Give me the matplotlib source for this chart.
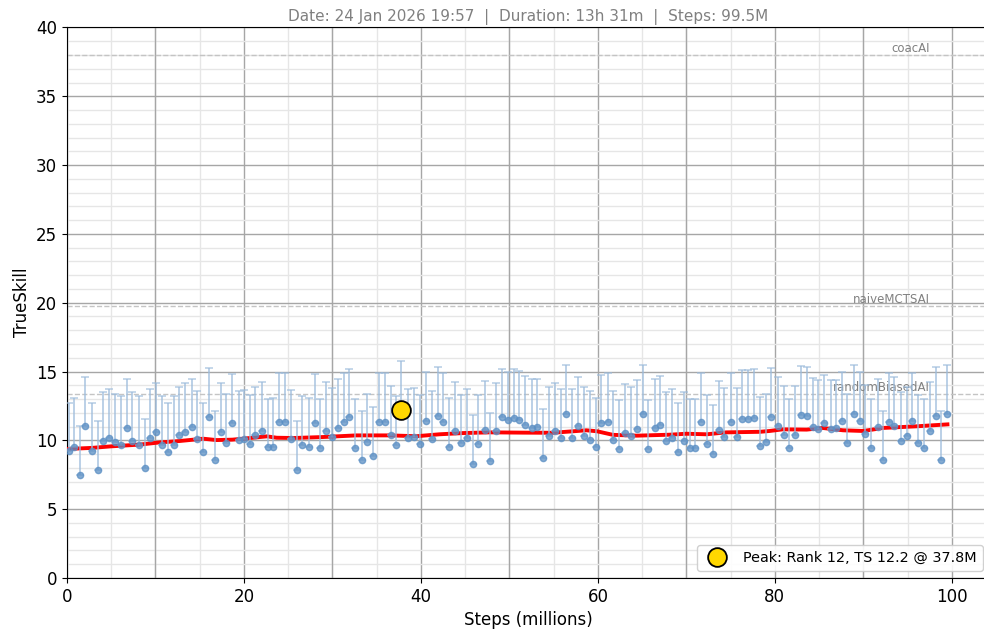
import numpy as np
import matplotlib
matplotlib.use("Agg")
import matplotlib.pyplot as plt
from matplotlib.ticker import MultipleLocator
from matplotlib.lines import Line2D

# evaluation checkpoints (millions of steps) and TrueSkill
steps = [0.2, 0.8, 1.5, 2.1, 2.8, 3.5, 4.1, 4.8, 5.4, 6.1, 6.8, 7.4, 8.1, 8.8, 9.4,
         10.1, 10.7, 11.4, 12.1, 12.7, 13.4, 14.1, 14.7, 15.4, 16.0, 16.7, 17.4, 18.0, 18.7, 19.4,
         20.0, 20.7, 21.3, 22.0, 22.7, 23.3, 24.0, 24.7, 25.3, 26.0, 26.6, 27.3, 28.0, 28.6, 29.3,
         30.0, 30.6, 31.3, 31.9, 32.6, 33.3, 33.9, 34.6, 35.3, 35.9, 36.6, 37.2, 37.8, 38.6, 39.2,
         39.9, 40.6, 41.2, 41.9, 42.5, 43.2, 43.9, 44.5, 45.2, 45.9, 46.5, 47.2, 47.8, 48.5, 49.2,
         49.8, 50.5, 51.1, 51.8, 52.5, 53.1, 53.8, 54.5, 55.1, 55.8, 56.4, 57.1, 57.8, 58.4, 59.1,
         59.8, 60.4, 61.1, 61.7, 62.4, 63.1, 63.7, 64.4, 65.1, 65.7, 66.4, 67.0, 67.7, 68.4, 69.0,
         69.7, 70.4, 71.0, 71.7, 72.3, 73.0, 73.7, 74.3, 75.0, 75.7, 76.3, 77.0, 77.6, 78.3, 79.0,
         79.6, 80.3, 81.0, 81.6, 82.3, 82.9, 83.6, 84.3, 84.9, 85.6, 86.3, 86.9, 87.6, 88.2, 88.9,
         89.6, 90.2, 90.9, 91.6, 92.2, 92.9, 93.5, 94.2, 94.9, 95.5, 96.2, 96.9, 97.5, 98.2, 98.8,
         99.5]
trueskill = [9.20, 9.54, 7.46, 11.07, 9.20, 7.82, 9.93, 10.19, 9.85, 9.66, 10.90, 9.95, 9.66, 7.97, 10.15,
             10.60, 9.66, 9.13, 9.66, 10.36, 10.60, 10.94, 10.07, 9.15, 11.69, 8.55, 10.60, 9.81, 11.26, 10.05,
             10.10, 9.73, 10.36, 10.70, 9.49, 9.54, 11.31, 11.36, 10.10, 7.82,
             9.69, 9.54, 11.26, 9.47, 10.68, 10.24, 10.90, 11.31, 11.67, 9.44, 8.60, 9.85, 8.89, 11.31, 11.36,
             10.39, 9.69, 12.18, 10.15, 10.24, 9.73, 11.40, 10.07, 11.77, 11.36, 9.54, 10.70, 9.78, 10.15, 8.30,
             9.73, 10.77, 8.47, 10.65, 11.67, 11.45, 11.60, 11.48, 11.14,
             10.90, 10.94, 8.72, 10.34, 10.65, 10.15, 11.94, 10.19, 11.07, 10.34, 10.05, 9.52, 11.23, 11.31, 10.05,
             9.39, 10.56, 10.34, 10.80, 11.94, 9.39, 10.90, 11.14, 9.93, 10.19, 9.18, 9.98, 9.44, 9.44, 11.36,
             9.73, 9.00, 10.77, 10.24, 11.31, 10.24, 11.53, 11.53, 11.60, 9.59,
             9.85, 11.69, 11.07, 10.41, 9.44, 10.39, 11.86, 11.77, 10.99, 10.82, 11.23, 10.82, 10.87, 11.40, 9.83,
             11.89, 11.40, 10.48, 9.44, 10.94, 8.60, 11.31, 11.07, 9.98, 10.31, 11.38, 9.78, 9.47, 10.68, 11.77,
             8.60, 11.89]
upper_err = 3.55  # one-sided bar above every point

# smoothed trend (red line)
trend_steps = [0.2, 2.8, 4.9, 8.2, 10.5, 12.7, 14.3, 15.4, 16.9, 18.7, 19.9, 22.6, 23.7, 25.6, 28.9,
               32.7, 36.5, 39.5, 42.1, 44.8, 47.8, 51.5, 54.9, 58.7, 59.9, 61.7, 64.4, 68.1, 70.0, 72.3,
               74.5, 78.3, 79.4, 80.9, 83.6, 85.4, 87.7, 90.0, 92.2, 96.0, 99.5]
trend_vals = [9.38, 9.45, 9.56, 9.69, 9.85, 9.95, 10.05, 10.12, 10.02, 10.05, 10.12, 10.29, 10.19, 10.17, 10.24,
              10.36, 10.36, 10.30, 10.44, 10.53, 10.58, 10.56, 10.55, 10.73, 10.66, 10.40, 10.34, 10.41, 10.48, 10.44,
              10.58, 10.62, 10.68, 10.80, 10.78, 10.90, 10.73, 10.68, 10.90, 11.02, 11.16]

# reference opponents
ref_names = ["coacAI", "naiveMCTSAI", "randomBiasedAI"]
ref_vals = [38.0, 19.75, 13.35]

peak_step, peak_ts, peak_rank = 37.8, 12.18, 12

fig = plt.figure(figsize=(9.84, 6.32), dpi=100)
# right edge of the axes sits just past the figure edge, like the cropped original
ax = fig.add_axes([0.068, 0.0855, 0.938, 0.871])

yerr = np.vstack([np.zeros(len(trueskill)), np.full(len(trueskill), upper_err)])
ax.errorbar(steps, trueskill, yerr=yerr, fmt="o", ms=4.5, color="#5b8fc4", alpha=0.75,
            ecolor="#9dbcdc", elinewidth=1.3, capsize=2.8, capthick=1.1, zorder=4)
ax.plot(trend_steps, trend_vals, color="red", lw=2.8, zorder=3)
ax.plot([peak_step], [peak_ts], "o", ms=13.5, mfc="#FFD700", mec="black", mew=1.3, zorder=6)

for name, v in zip(ref_names, ref_vals):
    ax.axhline(v, color="#c4c4c4", ls="--", lw=1, zorder=1)
    ax.text(97.5, v + 0.02, name, ha="right", va="bottom", fontsize=8.5, color="gray", zorder=2)

ax.set_xlim(0, 104.3)
ax.set_ylim(0, 40)
ax.xaxis.set_major_locator(MultipleLocator(20))
ax.xaxis.set_minor_locator(MultipleLocator(5))
ax.yaxis.set_major_locator(MultipleLocator(5))
ax.yaxis.set_minor_locator(MultipleLocator(1))
ax.tick_params(which="minor", length=0)
ax.tick_params(which="major", labelsize=12)
ax.grid(which="major", color="#a6a6a6", lw=1)
ax.grid(which="minor", color="#e6e6e6", lw=1)
ax.set_axisbelow(True)
for xv in range(10, 100, 20):
    ax.axvline(xv, color="#a6a6a6", lw=1, zorder=0.7)

ax.set_xlabel("Steps (millions)", fontsize=12)
ax.set_ylabel("TrueSkill", fontsize=12)
ax.set_title("Date: 24 Jan 2026 19:57  |  Duration: 13h 31m  |  Steps: 99.5M",
             fontsize=11, color="gray", pad=5)

handle = Line2D([], [], ls="none", marker="o", ms=13.5, mfc="#FFD700", mec="black", mew=1.3)
ax.legend([handle], [f"Peak: Rank {peak_rank}, TS {peak_ts:.1f} @ {peak_step:.1f}M"],
          loc="lower right", fontsize=10.4, framealpha=0.9)

fig.savefig("out.png", dpi=100)
